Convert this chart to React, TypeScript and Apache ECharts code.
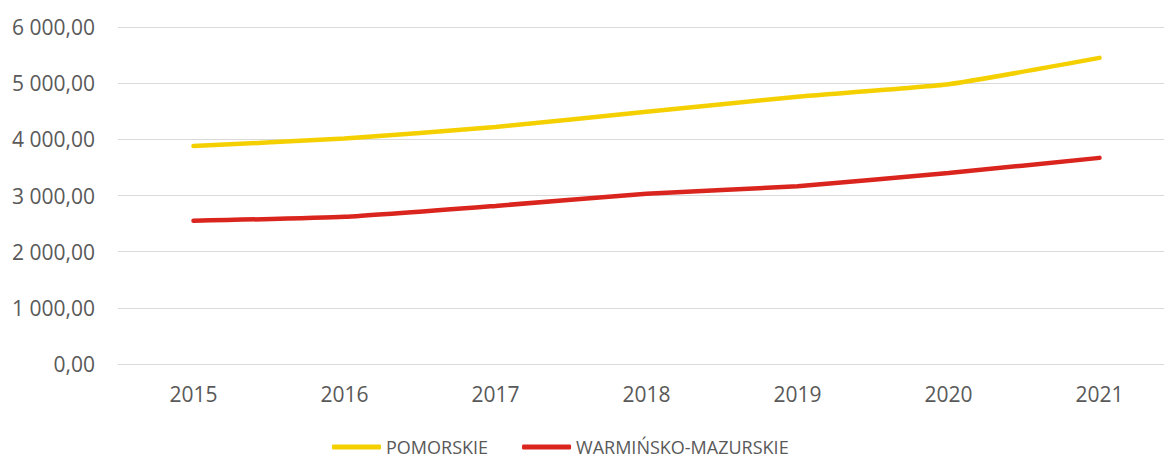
import React, { useEffect, useRef } from "react";
import * as echarts from "echarts";

const categories = ["2015", "2016", "2017", "2018", "2019", "2020", "2021"];
const pomorskie = [3880, 4015, 4220, 4490, 4760, 4980, 5450];
const warminsko = [2550, 2620, 2815, 3030, 3165, 3400, 3670];
const seriesNames = ["POMORSKIE", "WARMIŃSKO-MAZURSKIE"];

const fmt = (v: number) => {
  const fixed = v.toFixed(2);
  const [i, d] = fixed.split(".");
  const withSpaces = i.replace(/\B(?=(\d{3})+(?!\d))/g, " ");
  return withSpaces + "," + d;
};

export default function App() {
  const ref = useRef<HTMLDivElement>(null);
  useEffect(() => {
    if (!ref.current) return;
    document.body.style.margin = "0";
    const chart = echarts.init(ref.current, undefined, { renderer: "svg" });
    const font = "Open Sans";
    chart.setOption({
      animation: false,
      backgroundColor: "#ffffff",
      textStyle: { fontFamily: font },
      grid: { left: 118, right: 0, top: 27, bottom: 94, containLabel: false },
      legend: {
        top: 438,
        left: 332,
        padding: 0,
        icon: "roundRect",
        itemWidth: 49,
        itemHeight: 5,
        itemGap: 34,
        textStyle: { color: "#595959", fontSize: 18, fontFamily: font },
        data: seriesNames,
      },
      xAxis: {
        type: "category",
        data: categories,
        boundaryGap: true,
        axisLine: { show: true, lineStyle: { color: "#d9d9d9", width: 1 } },
        axisTick: { show: false },
        axisLabel: { color: "#595959", fontSize: 21, margin: 19, fontFamily: font },
      },
      yAxis: {
        type: "value",
        min: 0,
        max: 6000,
        interval: 1000,
        axisLine: { show: false },
        axisTick: { show: false },
        splitLine: { lineStyle: { color: "#d9d9d9", width: 1 } },
        axisLabel: {
          color: "#595959",
          fontSize: 21,
          margin: 23,
          fontFamily: font,
          formatter: (v: number) => fmt(v),
        },
      },
      series: [
        {
          name: seriesNames[0],
          type: "line",
          data: pomorskie,
          smooth: 0.15,
          symbol: "none",
          lineStyle: { color: "#f5d000", width: 4.5, cap: "round" },
          itemStyle: { color: "#f5d000" },
        },
        {
          name: seriesNames[1],
          type: "line",
          data: warminsko,
          smooth: 0.15,
          symbol: "none",
          lineStyle: { color: "#da251e", width: 4.5, cap: "round" },
          itemStyle: { color: "#da251e" },
        },
      ],
    });
    return () => chart.dispose();
  }, []);
  return (
    <div style={{ width: 1164, height: 458, overflow: "hidden", position: "relative" }}>
      <div ref={ref} style={{ width: 1175, height: 458 }} />
    </div>
  );
}
